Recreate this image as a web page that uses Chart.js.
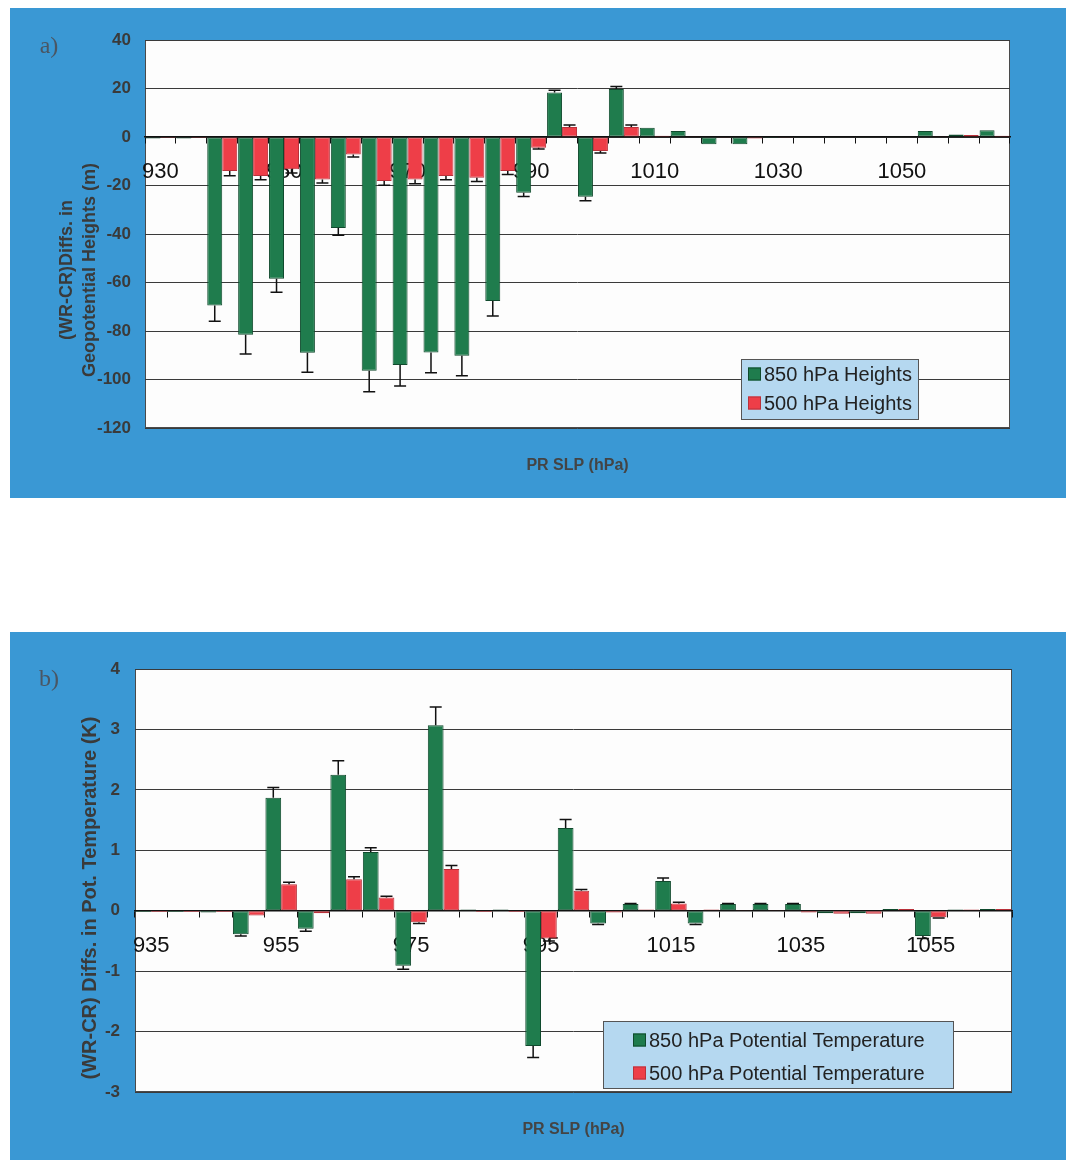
<!DOCTYPE html>
<html>
<head>
<meta charset="utf-8">
<script src="https://cdn.jsdelivr.net/npm/chart.js@4.4.1/dist/chart.umd.min.js"></script>
<style>
  html, body { margin: 0; padding: 0; background: #ffffff; }
  body { width: 1066px; height: 1160px; position: relative; overflow: hidden; }
  .panel { position: absolute; left: 10px; width: 1056px; background: #3a98d4; }
  #panelA { top: 8px; height: 490px; }
  #panelB { top: 632px; height: 528px; }
  canvas { display: block; }
</style>
</head>
<body>
<div class="panel" id="panelA"><canvas id="chartA" width="1056" height="490"></canvas></div>
<div class="panel" id="panelB"><canvas id="chartB" width="1056" height="528"></canvas></div>
<script>
// ---- (a) geopotential height differences, binned by PR sea-level pressure ----
const slpA = [930, 935, 940, 945, 950, 955, 960, 965, 970, 975, 980, 985, 990, 995,
              1000, 1005, 1010, 1015, 1020, 1025, 1030, 1035, 1040, 1045, 1050, 1055, 1060, 1065];
const hgt850 = [-0.6, -0.6, -69.5, -81.5, -58.5, -89, -37.5, -96.4, -94, -88.9, -90.2, -67.6, -23, 18.3,
                -24.6, 19.8, 3.8, 2.5, -3.0, -3.0, -0.4, -0.3, -0.3, -0.3, 0.3, 2.5, 1.0, 2.8];
const hgt850Err = [0, 0, 6.5, 8, 5.5, 8, 3, 8.6, 8.7, 8.3, 8.3, 6.2, 1.5, 1,
                   1.7, 1, 0, 0, 0, 0, 0, 0, 0, 0, 0, 0, 0, 0];
const hgt500 = [-0.4, -0.4, -14, -16.1, -13.3, -17.5, -7.2, -18.1, -17.5, -16.1, -16.8, -14, -4.4, 4.1,
                -5.8, 4.1, 0.5, 0.3, -0.3, -0.6, -0.3, -0.2, -0.2, -0.2, 0.2, 0.3, 0.8, 0.5];
const hgt500Err = [0, 0, 2, 1.5, 1.5, 1.5, 1, 1.8, 1.8, 1.5, 1.5, 1.5, 0.5, 0.8,
                   0.8, 0.8, 0, 0, 0, 0, 0, 0, 0, 0, 0, 0, 0, 0];
const hgtTicks = [-120, -100, -80, -60, -40, -20, 0, 20, 40];

// ---- (b) potential temperature differences ----
const slpB = [935, 940, 945, 950, 955, 960, 965, 970, 975, 980, 985, 990, 995,
              1000, 1005, 1010, 1015, 1020, 1025, 1030, 1035, 1040, 1045, 1050, 1055, 1060, 1065];
const theta850 = [-0.02, -0.02, -0.03, -0.39, 1.87, -0.30, 2.25, 0.97, -0.91, 3.07, 0.02, 0.02, -2.24,
                  1.37, -0.21, 0.11, 0.49, -0.21, 0.11, 0.11, 0.11, -0.04, -0.04, 0.03, -0.42, 0.02, 0.03];
const theta850Err = [0, 0, 0, 0.03, 0.17, 0.04, 0.23, 0.07, 0.06, 0.3, 0, 0, 0.19,
                     0.14, 0.02, 0.01, 0.05, 0.02, 0.01, 0.01, 0.01, 0, 0, 0, 0.04, 0, 0];
const theta500 = [-0.02, -0.02, -0.02, -0.08, 0.44, -0.04, 0.52, 0.22, -0.19, 0.69, -0.02, -0.02, -0.46,
                  0.33, -0.03, 0.02, 0.12, 0.02, 0.01, 0.01, -0.03, -0.05, -0.05, 0.03, -0.11, 0.02, 0.03];
const theta500Err = [0, 0, 0, 0, 0.03, 0, 0.04, 0.02, 0.02, 0.06, 0, 0, 0.04,
                     0.02, 0, 0, 0.02, 0, 0, 0, 0, 0, 0, 0, 0.01, 0, 0];
const thetaTicks = [-3, -2, -1, 0, 1, 2, 3, 4];

const GREEN = '#1f7c4d', GREEN_EDGE = '#104a2d';
const RED = '#ee3e48', RED_EDGE = '#b9313a';
const SANS = "'Liberation Sans', Arial, sans-serif";

// white plot area with a thin frame
const plotFrame = {
  id: 'plotFrame',
  beforeDraw(chart) {
    const { ctx, chartArea: a } = chart;
    ctx.save();
    ctx.fillStyle = '#fdfdfd';
    ctx.fillRect(a.left, a.top, a.width, a.height);
    ctx.strokeStyle = '#4a4a4a';
    ctx.lineWidth = 1;
    ctx.strokeRect(Math.round(a.left) + 0.5, Math.round(a.top) + 0.5, Math.round(a.width) - 1, Math.round(a.height) - 1);
    ctx.restore();
  }
};

// one-sided error bars (pointing away from zero) with a T cap
const errorBars = {
  id: 'errorBars',
  afterDatasetsDraw(chart) {
    const ctx = chart.ctx;
    const yScale = chart.scales.y;
    chart.data.datasets.forEach((ds, di) => {
      const meta = chart.getDatasetMeta(di);
      if (!ds.errors || meta.hidden) return;
      ctx.save();
      ctx.strokeStyle = '#111';
      ctx.lineWidth = 1.5;
      meta.data.forEach((bar, i) => {
        const v = ds.data[i];
        const e = ds.errors[i];
        if (!e) return;
        const dir = v < 0 ? -1 : 1;
        const yEnd = yScale.getPixelForValue(v + dir * e);
        const half = Math.min(bar.width * 0.42, 6);
        ctx.beginPath();
        ctx.moveTo(bar.x, bar.y);
        ctx.lineTo(bar.x, yEnd);
        ctx.moveTo(bar.x - half, yEnd);
        ctx.lineTo(bar.x + half, yEnd);
        ctx.stroke();
      });
      ctx.restore();
    });
  }
};

// panel letter, axis titles and the boxed legend
function decorations(cfg) {
  return {
    id: 'decorations',
    afterDraw(chart) {
      const ctx = chart.ctx;
      const a = chart.chartArea;
      ctx.save();
      // panel letter
      ctx.fillStyle = '#4a5663';
      ctx.font = "24px 'Liberation Serif', 'Times New Roman', serif";
      ctx.textAlign = 'center';
      ctx.textBaseline = 'middle';
      ctx.fillText(cfg.letter, cfg.letterPos[0], cfg.letterPos[1]);
      // y title (rotated)
      ctx.fillStyle = '#3a3a3a';
      ctx.font = 'bold ' + cfg.yTitleSize + 'px ' + SANS;
      cfg.yTitle.forEach((line, i) => {
        ctx.save();
        ctx.translate(cfg.yTitleX[i], cfg.yTitleY);
        ctx.rotate(-Math.PI / 2);
        ctx.fillText(line, 0, 0);
        ctx.restore();
      });
      // x title
      ctx.fillStyle = '#444';
      ctx.font = 'bold 16px ' + SANS;
      ctx.fillText(cfg.xTitle, (a.left + a.right) / 2, cfg.xTitleY);
      // legend
      const [bx, by, bw, bh] = cfg.legendBox;
      ctx.fillStyle = '#b5d8f0';
      ctx.fillRect(bx, by, bw, bh);
      ctx.strokeStyle = '#555';
      ctx.lineWidth = 1;
      ctx.strokeRect(bx + 0.5, by + 0.5, bw - 1, bh - 1);
      ctx.font = '20px ' + SANS;
      ctx.textAlign = 'left';
      chart.data.datasets.forEach((ds, i) => {
        const ry = cfg.legendRows[i];
        ctx.fillStyle = ds.backgroundColor;
        ctx.fillRect(cfg.swatchX, ry - 6.5, 13, 13);
        ctx.strokeStyle = ds.borderColor;
        ctx.strokeRect(cfg.swatchX + 0.5, ry - 6, 12, 12);
        ctx.fillStyle = '#222';
        ctx.fillText(ds.label, cfg.swatchX + 16, ry + 1);
      });
      ctx.restore();
    }
  };
}

function makeChart(id, labels, series, ticks, frame, decor) {
  return new Chart(document.getElementById(id), {
    type: 'bar',
    data: {
      labels: labels,
      datasets: series.map(s => ({
        label: s.label,
        data: s.values,
        errors: s.errors,
        backgroundColor: s.color,
        borderColor: s.edge,
        borderWidth: 1,
        borderSkipped: false,
        categoryPercentage: 0.97,
        barPercentage: 1.0
      }))
    },
    options: {
      responsive: false,
      animation: false,
      devicePixelRatio: 1,
      layout: { padding: frame.padding },
      plugins: { legend: { display: false }, tooltip: { enabled: false }, title: { display: false } },
      scales: {
        x: {
          position: { y: 0 },
          grid: { display: true, drawOnChartArea: false, drawTicks: true, tickLength: 6, color: '#111', lineWidth: 1, offset: true },
          border: { display: true, color: '#111', width: 1.5 },
          ticks: {
            autoSkip: false,
            maxRotation: 0,
            minRotation: 0,
            padding: frame.xLabelPad,
            color: '#111',
            font: { family: SANS, size: 22, lineHeight: 1 },
            callback(value, index) { return index % 4 === 0 ? this.getLabelForValue(value) : ''; }
          }
        },
        y: {
          min: ticks[0],
          max: ticks[ticks.length - 1],
          ticks: { stepSize: ticks[1] - ticks[0], padding: frame.yLabelPad, color: '#3a3a3a', font: { family: SANS, size: 17, weight: 'bold' } },
          grid: { color: '#3a3a3a', lineWidth: 1, drawTicks: false },
          border: { display: false },
          afterFit(scale) { scale.width = frame.yWidth; }
        }
      }
    },
    plugins: [plotFrame, errorBars, decor]
  });
}

makeChart('chartA', slpA, [
  { label: '850 hPa Heights', values: hgt850, errors: hgt850Err, color: GREEN, edge: GREEN_EDGE },
  { label: '500 hPa Heights', values: hgt500, errors: hgt500Err, color: RED, edge: RED_EDGE }
], hgtTicks,
  { padding: { left: 0, right: 56, top: 32, bottom: 70 }, yWidth: 135, yLabelPad: 14, xLabelPad: 18 },
  decorations({
    letter: 'a)', letterPos: [39, 39],
    yTitle: ['(WR-CR)Diffs. in', 'Geopotential Heights (m)'], yTitleX: [57, 80], yTitleY: 262, yTitleSize: 18,
    xTitle: 'PR SLP (hPa)', xTitleY: 458,
    legendBox: [731, 351, 178, 61], legendRows: [366, 395], swatchX: 738
  })
);

makeChart('chartB', slpB, [
  { label: '850 hPa Potential Temperature', values: theta850, errors: theta850Err, color: GREEN, edge: GREEN_EDGE },
  { label: '500 hPa Potential Temperature', values: theta500, errors: theta500Err, color: RED, edge: RED_EDGE }
], thetaTicks,
  { padding: { left: 0, right: 54, top: 37, bottom: 68 }, yWidth: 125, yLabelPad: 15, xLabelPad: 18 },
  decorations({
    letter: 'b)', letterPos: [39, 48],
    yTitle: ['(WR-CR) Diffs. in Pot. Temperature (K)'], yTitleX: [80], yTitleY: 266, yTitleSize: 20,
    xTitle: 'PR SLP (hPa)', xTitleY: 498,
    legendBox: [593, 389, 351, 68], legendRows: [408, 441], swatchX: 623
  })
);
</script>
</body>
</html>
